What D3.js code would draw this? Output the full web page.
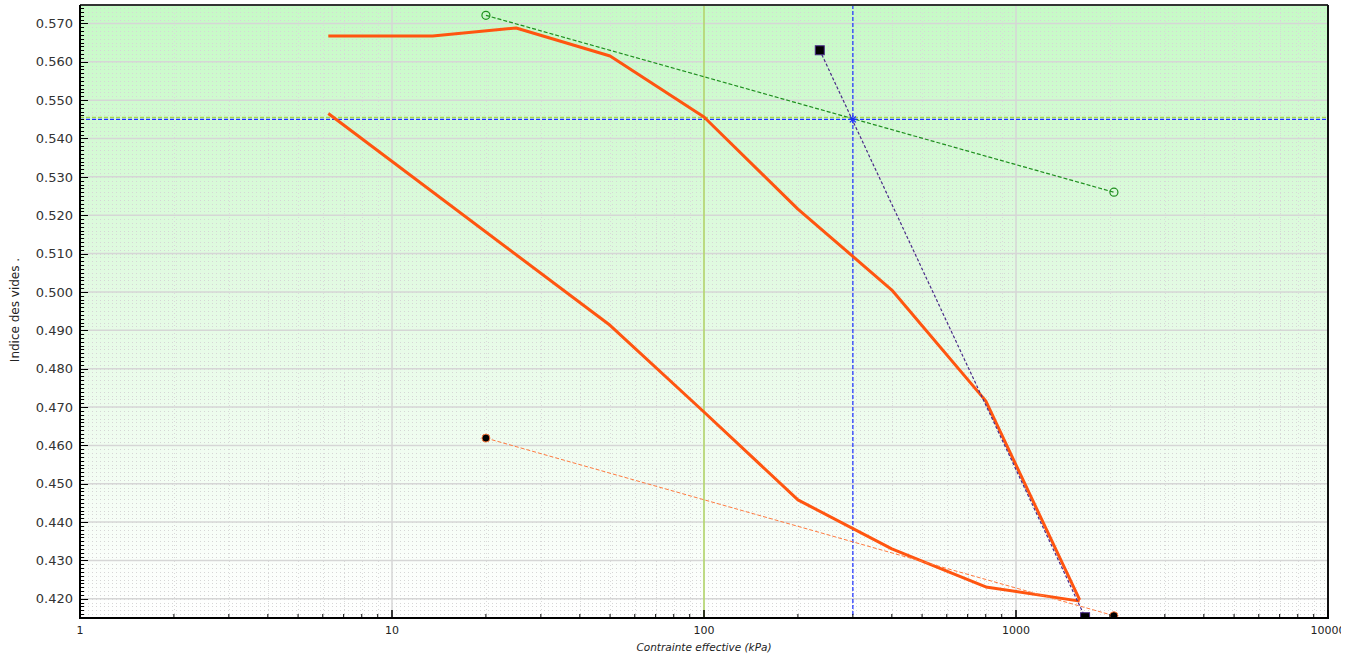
<!DOCTYPE html>
<html>
<head>
<meta charset="utf-8">
<script src="https://cdn.jsdelivr.net/npm/d3@7"></script>
<style>
  body { margin: 0; background: #fff; }
  svg { display: block; }
</style>
</head>
<body>
<div id="chart"></div>
<script>
// Courbe de chargement (oedometre)
const loadX = [6.25, 13.5, 25, 50, 100, 200, 400, 800, 1600];
const loadE = [0.5667, 0.5667, 0.5688, 0.5615, 0.5456, 0.5216, 0.5005, 0.4716, 0.4197];
// Deuxieme courbe
const secondX = [6.25, 50, 100, 200, 400, 800, 1600];
const secondE = [0.5465, 0.4913, 0.4687, 0.4458, 0.4330, 0.4231, 0.4194];
// Droites de construction
const greenX = [20, 2060];
const greenE = [0.5721, 0.5260];
const purpleX = [235, 1665];
const purpleE = [0.5630, 0.4152];
const thinX = [20, 2060];
const thinE = [0.4619, 0.4156];
// Point de preconsolidation
const precoX = 300;
const precoE = 0.545;
const refX = 100;
const refE = 0.5455;
// Axes
const yTicks = [0.420, 0.430, 0.440, 0.450, 0.460, 0.470, 0.480, 0.490, 0.500, 0.510,
                0.520, 0.530, 0.540, 0.550, 0.560, 0.570];
const xTicks = [1, 10, 100, 1000, 10000];

const W = 1356, H = 660;
const mLeft = 80, mRight = 1328, mTop = 5, mBottom = 618;

const x = d3.scaleLog().domain([1, 10000]).range([mLeft, mRight]);
const y = d3.scaleLinear().domain([0.415, 0.5748]).range([mBottom, mTop]);

const svg = d3.select("#chart").append("svg")
    .attr("width", W)
    .attr("height", H);

const defs = svg.append("defs");
const grad = defs.append("linearGradient")
    .attr("id", "bg").attr("x1", 0).attr("y1", 0).attr("x2", 0).attr("y2", 1);
grad.append("stop").attr("offset", "0%").attr("stop-color", "#c6fac6");
grad.append("stop").attr("offset", "45%").attr("stop-color", "#e2fae2");
grad.append("stop").attr("offset", "100%").attr("stop-color", "#ffffff");

defs.append("clipPath").attr("id", "plotclip")
  .append("rect").attr("x", mLeft).attr("y", mTop)
    .attr("width", mRight - mLeft).attr("height", mBottom - mTop);

svg.append("rect")
    .attr("x", mLeft).attr("y", mTop)
    .attr("width", mRight - mLeft).attr("height", mBottom - mTop)
    .attr("fill", "url(#bg)");

const plot = svg.append("g").attr("clip-path", "url(#plotclip)");

// grille mineure en pointilles
const minorY = d3.range(415, 575).map(d => d / 1000);
plot.selectAll("line.minory").data(minorY).enter().append("line")
    .attr("x1", mLeft).attr("x2", mRight)
    .attr("y1", d => Math.round(y(d)) + 0.5).attr("y2", d => Math.round(y(d)) + 0.5)
    .attr("stroke", "#d6d6d6")
    .attr("stroke-width", 1)
    .attr("stroke-dasharray", "1,3");

const minorX = [];
for (let dec = 1; dec < 10000; dec *= 10) {
  for (let k = 2; k < 10; k++) minorX.push(dec * k);
}
plot.selectAll("line.minorx").data(minorX).enter().append("line")
    .attr("x1", d => Math.round(x(d)) + 0.5).attr("x2", d => Math.round(x(d)) + 0.5)
    .attr("y1", mTop).attr("y2", mBottom)
    .attr("stroke", "#dadada")
    .attr("stroke-width", 1)
    .attr("stroke-dasharray", "1,3");

// grille majeure
plot.selectAll("line.gy").data(yTicks).enter().append("line")
    .attr("x1", mLeft).attr("x2", mRight)
    .attr("y1", d => y(d)).attr("y2", d => y(d))
    .attr("stroke", "#d6d6d6").attr("stroke-width", 1.5);
plot.selectAll("line.gx").data(xTicks).enter().append("line")
    .attr("x1", d => x(d)).attr("x2", d => x(d))
    .attr("y1", mTop).attr("y2", mBottom)
    .attr("stroke", "#d6d6d6").attr("stroke-width", 1.5);

// lignes de reference
plot.append("line")
    .attr("x1", x(refX)).attr("x2", x(refX)).attr("y1", mTop).attr("y2", mBottom)
    .attr("stroke", "#a8d848").attr("stroke-width", 1.2);
plot.append("line")
    .attr("x1", mLeft).attr("x2", mRight).attr("y1", y(refE)).attr("y2", y(refE))
    .attr("stroke", "#a8d848").attr("stroke-width", 1.2).attr("stroke-dasharray", "4,2");
plot.append("line")
    .attr("x1", mLeft).attr("x2", mRight).attr("y1", y(precoE)).attr("y2", y(precoE))
    .attr("stroke", "#1a2eff").attr("stroke-width", 1.2).attr("stroke-dasharray", "4,2");
plot.append("line")
    .attr("x1", x(precoX)).attr("x2", x(precoX)).attr("y1", mTop).attr("y2", mBottom)
    .attr("stroke", "#1a2eff").attr("stroke-width", 1.2).attr("stroke-dasharray", "4,2");

const line = d3.line().x(d => x(d[0])).y(d => y(d[1]));
const zip = (a, b) => a.map((v, i) => [v, b[i]]);

// courbes oedometriques
plot.append("path").datum(zip(loadX, loadE))
    .attr("d", line).attr("fill", "none")
    .attr("stroke", "#ff5510").attr("stroke-width", 3).attr("stroke-linejoin", "round");
plot.append("path").datum(zip(secondX, secondE))
    .attr("d", line).attr("fill", "none")
    .attr("stroke", "#ff5510").attr("stroke-width", 3).attr("stroke-linejoin", "round");

// droites de construction
plot.append("path").datum(zip(thinX, thinE))
    .attr("d", line).attr("fill", "none")
    .attr("stroke", "#ff7a40").attr("stroke-width", 1).attr("stroke-dasharray", "4,2");
plot.append("path").datum(zip(greenX, greenE))
    .attr("d", line).attr("fill", "none")
    .attr("stroke", "#1f8f1f").attr("stroke-width", 1.2).attr("stroke-dasharray", "4,2");
plot.append("path").datum(zip(purpleX, purpleE))
    .attr("d", line).attr("fill", "none")
    .attr("stroke", "#4a2a8a").attr("stroke-width", 1.2).attr("stroke-dasharray", "3,2");

// marqueurs
plot.selectAll("circle.green").data(zip(greenX, greenE)).enter().append("circle")
    .attr("cx", d => x(d[0])).attr("cy", d => y(d[1])).attr("r", 4)
    .attr("fill", "none").attr("stroke", "#1f8f1f").attr("stroke-width", 1.2);
plot.selectAll("rect.sq").data(zip(purpleX, purpleE)).enter().append("rect")
    .attr("x", d => x(d[0]) - 4.5).attr("y", d => y(d[1]) - 4.5)
    .attr("width", 9).attr("height", 9)
    .attr("fill", "#000").attr("stroke", "#4a2a8a").attr("stroke-width", 1);
plot.selectAll("circle.thin").data(zip(thinX, thinE)).enter().append("circle")
    .attr("cx", d => x(d[0])).attr("cy", d => y(d[1])).attr("r", 4)
    .attr("fill", "#000").attr("stroke", "#ff7a40").attr("stroke-width", 1);

// asterisque au point de preconsolidation
const px = x(precoX), py = y(precoE);
const star = plot.append("g").attr("stroke", "#1a2eff").attr("stroke-width", 1.2);
[[-4, 0, 4, 0], [0, -4, 0, 4], [-3, -3, 3, 3], [-3, 3, 3, -3]].forEach(s => {
  star.append("line")
      .attr("x1", px + s[0]).attr("y1", py + s[1])
      .attr("x2", px + s[2]).attr("y2", py + s[3]);
});

// cadre
svg.append("line").attr("x1", mLeft).attr("x2", mRight).attr("y1", mTop).attr("y2", mTop)
    .attr("stroke", "#333").attr("stroke-width", 2);
svg.append("line").attr("x1", mRight).attr("x2", mRight).attr("y1", mTop).attr("y2", mBottom)
    .attr("stroke", "#111").attr("stroke-width", 2);

// axe Y
const yAxis = svg.append("g");
yAxis.selectAll("line.ym").data(minorY).enter().append("line")
    .attr("x1", mLeft).attr("x2", d => mLeft + (Math.round(d * 1000) % 10 === 0 ? 8 : 4))
    .attr("y1", d => Math.round(y(d)) + 0.5).attr("y2", d => Math.round(y(d)) + 0.5)
    .attr("stroke", "#000").attr("stroke-width", 1);
yAxis.selectAll("text").data(yTicks).enter().append("text")
    .attr("x", mLeft - 7).attr("y", d => y(d))
    .attr("dy", "0.36em")
    .attr("text-anchor", "end")
    .attr("font-family", "DejaVu Sans, sans-serif")
    .attr("font-size", 13)
    .attr("fill", "#333")
    .text(d => d3.format(".3f")(d));
yAxis.append("line").attr("x1", mLeft).attr("x2", mLeft).attr("y1", mTop).attr("y2", mBottom + 1)
    .attr("stroke", "#000").attr("stroke-width", 2);

// axe X
const xAxis = svg.append("g");
xAxis.selectAll("line.xm").data(minorX).enter().append("line")
    .attr("x1", d => x(d)).attr("x2", d => x(d))
    .attr("y1", mBottom).attr("y2", mBottom - 4)
    .attr("stroke", "#000").attr("stroke-width", 1);
xAxis.selectAll("line.xM").data(xTicks).enter().append("line")
    .attr("x1", d => x(d)).attr("x2", d => x(d))
    .attr("y1", mBottom).attr("y2", mBottom - 8)
    .attr("stroke", "#000").attr("stroke-width", 1.5);
xAxis.selectAll("text").data(xTicks).enter().append("text")
    .attr("x", d => x(d)).attr("y", mBottom + 16)
    .attr("text-anchor", "middle")
    .attr("font-family", "DejaVu Sans, sans-serif")
    .attr("font-size", 11)
    .attr("fill", "#222")
    .text(d => d);
xAxis.append("line").attr("x1", mLeft - 1).attr("x2", mRight + 1).attr("y1", mBottom).attr("y2", mBottom)
    .attr("stroke", "#000").attr("stroke-width", 2);

// titres
svg.append("text")
    .attr("x", (mLeft + mRight) / 2).attr("y", 651)
    .attr("text-anchor", "middle")
    .attr("font-family", "DejaVu Sans, sans-serif")
    .attr("font-style", "italic")
    .attr("font-size", 10.5)
    .attr("fill", "#222")
    .text("Contrainte effective (kPa)");
svg.append("text")
    .attr("transform", "translate(19," + 310 + ") rotate(-90)")
    .attr("text-anchor", "middle")
    .attr("font-family", "DejaVu Sans, sans-serif")
    .attr("font-size", 12)
    .attr("fill", "#222")
    .text("Indice des vides .");

// cache a droite (libelle coupe comme dans l'original)
svg.append("rect").attr("x", 1341).attr("y", 0).attr("width", 15).attr("height", H)
    .attr("fill", "#fff");
</script>
</body>
</html>
